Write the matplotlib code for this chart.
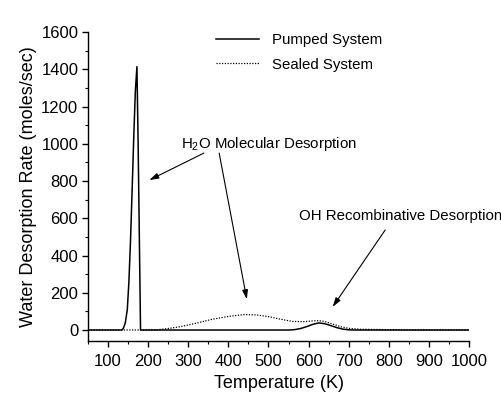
import matplotlib
matplotlib.use("Agg")
import matplotlib.pyplot as plt
from matplotlib.ticker import MultipleLocator

plt.rcParams['font.family'] = ['Liberation Sans', 'DejaVu Sans']
plt.rcParams['mathtext.fontset'] = 'custom'
plt.rcParams['mathtext.rm'] = 'Liberation Sans'
plt.rcParams['mathtext.default'] = 'regular'

# desorption rate vs temperature
temp_pumped = [50, 130, 134, 138, 143, 148, 152, 156, 160, 164, 168, 172, 175, 178, 181,
               200, 550, 565, 580, 595, 610, 625, 640, 655, 670, 685, 700, 720, 1000]
rate_pumped = [0, 0, 0, 8, 38, 110, 260, 480, 750, 1030, 1280, 1414, 1000, 500, 0,
               0, 0, 2, 8, 18, 30, 38, 34, 24, 13, 5, 1, 0, 0]

temp_sealed = [50, 200, 220, 250, 280, 300, 330, 360, 400, 440, 470, 500, 530, 560,
               590, 610, 625, 640, 660, 680, 700, 730, 800, 850, 1000]
rate_sealed = [0, 0, 1, 8, 18, 27, 42, 58, 73, 83, 81, 72, 58, 46,
               45, 49, 50, 46, 32, 18, 9, 4, 2, 1, 0]

series_labels = ["Pumped System", "Sealed System"]

# annotation text, text anchor (T, rate) and arrow target (T, rate)
h2o_label = "H$_2$O Molecular Desorption"
h2o_text_xy = (282, 1000)
h2o_arrow_from = [(339, 950), (377, 950)]
h2o_arrow_to = [(203, 805), (446, 165)]

oh_label = "OH Recombinative Desorption"
oh_text_xy = (575, 612)
oh_arrow_from = (791, 537)
oh_arrow_to = (660, 124)


def plot_desorption():
    fig = plt.figure(figsize=(5.02, 3.98), dpi=100)
    ax = fig.add_axes([0.1753, 0.1432, 0.759, 0.7764])

    ax.plot(temp_pumped, rate_pumped, color='black', lw=1.1, label=series_labels[0])
    ax.plot(temp_sealed, rate_sealed, color='black', lw=0.9, ls=(0, (1, 1.2)),
            label=series_labels[1])

    ax.set_xlim(50, 1000)
    ax.set_ylim(-59, 1600)
    ax.xaxis.set_major_locator(MultipleLocator(100))
    ax.xaxis.set_minor_locator(MultipleLocator(50))
    ax.yaxis.set_major_locator(MultipleLocator(200))
    ax.yaxis.set_minor_locator(MultipleLocator(100))
    ax.set_xticks(range(100, 1001, 100))
    ax.set_yticks(range(0, 1601, 200))

    ax.spines['top'].set_visible(False)
    ax.spines['right'].set_visible(False)
    for s in ['left', 'bottom']:
        ax.spines[s].set_linewidth(1.0)
    ax.tick_params(which='major', direction='out', length=4, width=1.0,
                   labelsize=12, pad=3)
    ax.tick_params(which='minor', direction='out', length=2.5, width=0.8)
    ax.tick_params(axis='x', which='major', pad=5)

    ax.set_xlabel("Temperature (K)", fontsize=13, labelpad=5)
    ax.set_ylabel("Water Desorption Rate (moles/sec)", fontsize=13, labelpad=3)

    ax.legend(loc='upper left', bbox_to_anchor=(0.335, 0.996), frameon=False,
              fontsize=10.8, handlelength=2.9, handletextpad=0.85,
              labelspacing=0.7, borderpad=0, borderaxespad=0)

    arrow_kw = dict(arrowstyle='-|>,head_length=0.55,head_width=0.17',
                    color='black', lw=0.8, shrinkA=0, shrinkB=0)
    ax.text(h2o_text_xy[0], h2o_text_xy[1], h2o_label, fontsize=10.8, va='center')
    for start, end in zip(h2o_arrow_from, h2o_arrow_to):
        ax.annotate("", xy=end, xytext=start, arrowprops=arrow_kw)
    ax.text(oh_text_xy[0], oh_text_xy[1], oh_label, fontsize=10.8, va='center')
    ax.annotate("", xy=oh_arrow_to, xytext=oh_arrow_from, arrowprops=arrow_kw)

    fig.savefig("out.png", dpi=100)


if __name__ == "__main__":
    plot_desorption()
